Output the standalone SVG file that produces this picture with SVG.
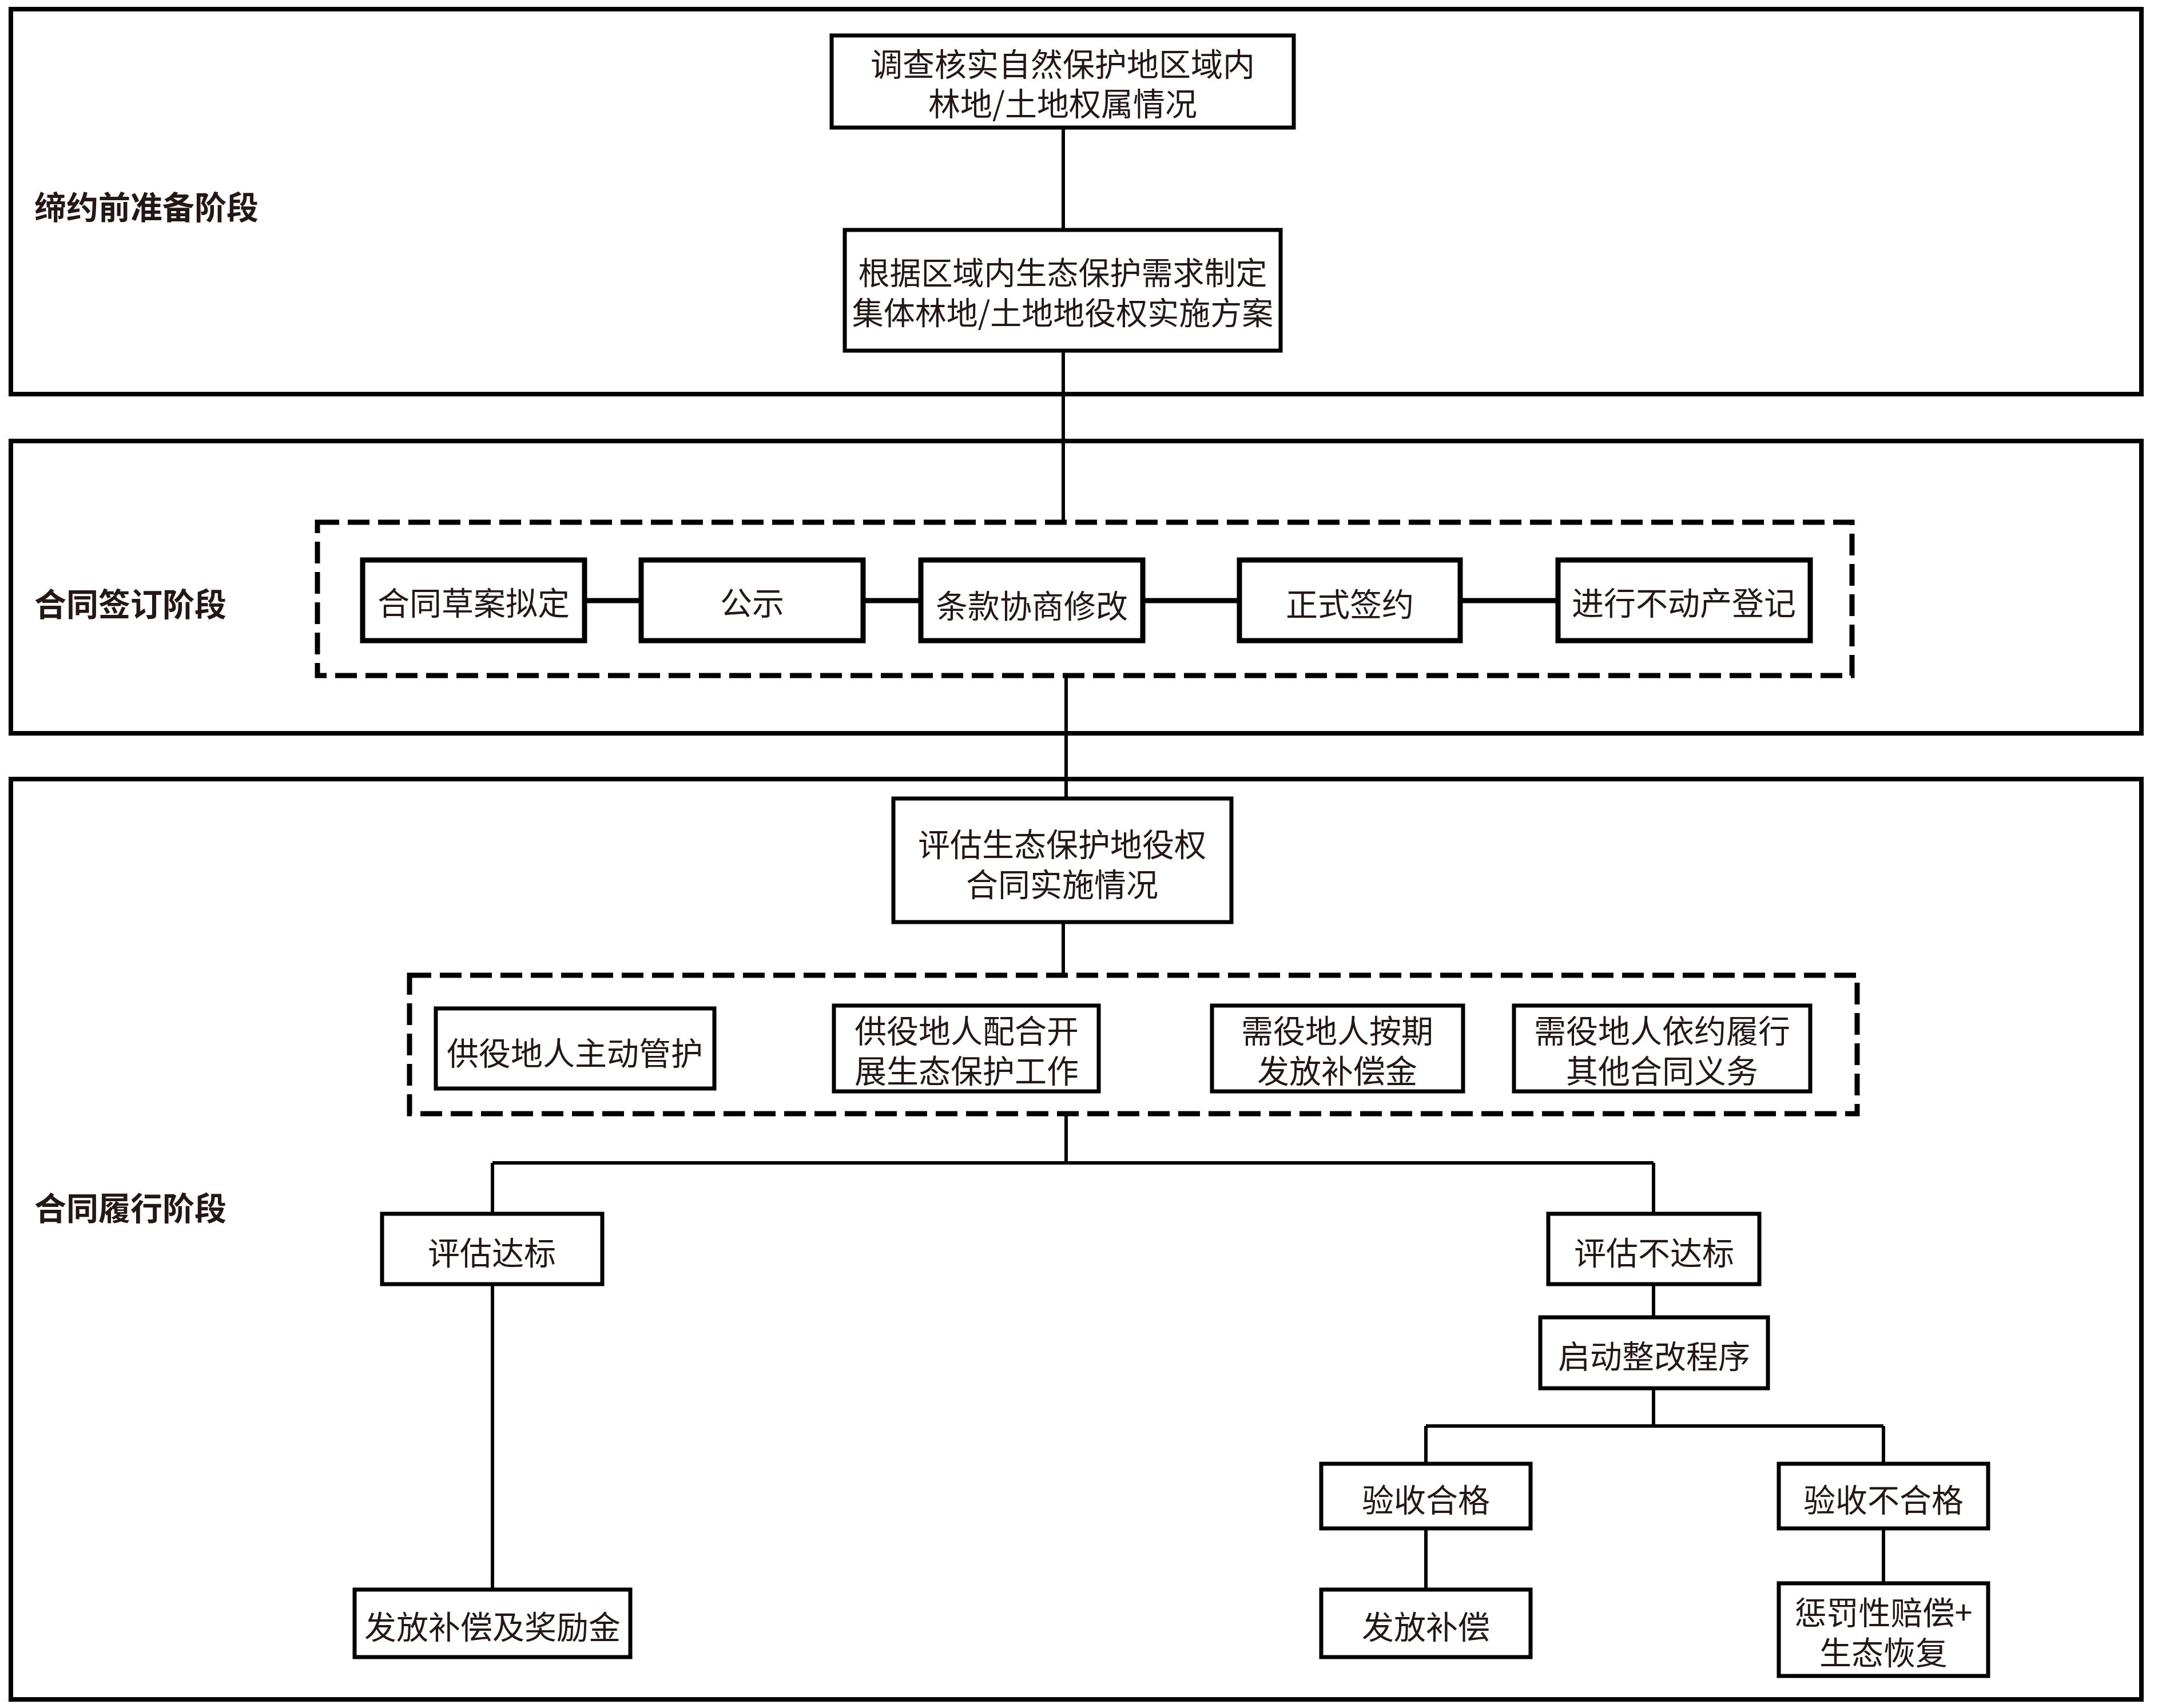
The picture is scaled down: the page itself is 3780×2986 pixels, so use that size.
<svg xmlns="http://www.w3.org/2000/svg" width="3780" height="2986" viewBox="0 0 3780 2986">
<style>
.panel{fill:none;stroke:#000;stroke-width:8}
.box{fill:#fff;stroke:#000;stroke-width:7}
.box2{fill:#fff;stroke:#000;stroke-width:9}
.dash{fill:none;stroke:#000;stroke-width:9;stroke-dasharray:38 15}
.t{font-family:"Noto Sans CJK SC","Noto Sans",sans-serif;font-size:56px;fill:#231815;text-anchor:middle;dominant-baseline:central}
.lbl{font-family:"Noto Sans CJK SC","Noto Sans",sans-serif;font-size:56px;font-weight:bold;fill:#231815;dominant-baseline:central}
.c{fill:none;stroke:#000;stroke-width:6}
.ch{fill:none;stroke:#000;stroke-width:9}
</style>
<rect x="0" y="0" width="3780" height="2986" fill="#fff"/>
<g id="panels">
<rect class="panel" x="19" y="16" width="3725" height="673"/>
<rect class="panel" x="19" y="771" width="3725" height="511"/>
<rect class="panel" x="19" y="1362" width="3725" height="1609"/>
<text class="lbl" x="60" y="358">缔约前准备阶段</text>
<text class="lbl" x="60" y="1052">合同签订阶段</text>
<text class="lbl" x="60" y="2108">合同履行阶段</text>
</g>
<g id="groups">
<rect class="dash" x="555" y="913" width="2683" height="268"/>
<rect class="dash" x="716" y="1705" width="2531" height="242"/>
</g>
<g id="connectors">
<path class="c" d="M1859 223V402M1859 613V913M1864 1181V1396M1859 1612V1705M1864 1947V2033"/>
<path class="ch" d="M1022 1050H1121M1509 1050H1610M1998 1050H2167M2553 1050H2724"/>
<path class="c" d="M861 2033H2891M861 2033V2122M2891 2033V2122M861 2245V2779M2891 2245V2303M2891 2427V2493M2493 2493H3293M2493 2493V2559M3293 2493V2559M2493 2672V2779M3293 2672V2768"/>
</g>
<g id="n1"><rect class="box" x="1454" y="62" width="808" height="161"/><text class="t"><tspan x="1858" y="108">调查核实自然保护地区域内</tspan><tspan x="1858" y="177">林地/土地权属情况</tspan></text></g>
<g id="n2"><rect class="box" x="1477" y="402" width="762" height="211"/><text class="t" style="font-size:55px"><tspan x="1858" y="473">根据区域内生态保护需求制定</tspan><tspan x="1858" y="543">集体林地/土地地役权实施方案</tspan></text></g>
<g id="n3"><rect class="box2" x="634" y="979" width="388" height="141"/><text class="t" x="828" y="1050">合同草案拟定</text></g>
<g id="n4"><rect class="box2" x="1121" y="979" width="388" height="141"/><text class="t" x="1315" y="1050">公示</text></g>
<g id="n5"><rect class="box2" x="1610" y="979" width="388" height="141"/><text class="t" x="1804" y="1055">条款协商修改</text></g>
<g id="n6"><rect class="box2" x="2167" y="979" width="386" height="141"/><text class="t" x="2360" y="1052">正式签约</text></g>
<g id="n7"><rect class="box2" x="2724" y="979" width="441" height="141"/><text class="t" x="2944" y="1050">进行不动产登记</text></g>
<g id="n8"><rect class="box" x="1562" y="1396" width="591" height="216"/><text class="t"><tspan x="1857" y="1472">评估生态保护地役权</tspan><tspan x="1857" y="1542">合同实施情况</tspan></text></g>
<g id="n9"><rect class="box" x="762" y="1763" width="487" height="140"/><text class="t" x="1005" y="1837">供役地人主动管护</text></g>
<g id="n10"><rect class="box" x="1458" y="1758" width="463" height="150"/><text class="t"><tspan x="1690" y="1798">供役地人配合开</tspan><tspan x="1690" y="1868">展生态保护工作</tspan></text></g>
<g id="n11"><rect class="box" x="2119" y="1758" width="439" height="150"/><text class="t"><tspan x="2338" y="1798">需役地人按期</tspan><tspan x="2338" y="1868">发放补偿金</tspan></text></g>
<g id="n12"><rect class="box" x="2647" y="1758" width="518" height="150"/><text class="t"><tspan x="2906" y="1798">需役地人依约履行</tspan><tspan x="2906" y="1868">其他合同义务</tspan></text></g>
<g id="n13"><rect class="box" x="668" y="2122" width="385" height="123"/><text class="t" x="860" y="2186">评估达标</text></g>
<g id="n14"><rect class="box" x="2707" y="2122" width="369" height="123"/><text class="t" x="2892" y="2186">评估不达标</text></g>
<g id="n15"><rect class="box" x="2693" y="2303" width="398" height="124"/><text class="t" x="2892" y="2367">启动整改程序</text></g>
<g id="n16"><rect class="box" x="2310" y="2559" width="366" height="113"/><text class="t" x="2493" y="2618">验收合格</text></g>
<g id="n17"><rect class="box" x="3110" y="2559" width="366" height="113"/><text class="t" x="3293" y="2618">验收不合格</text></g>
<g id="n18"><rect class="box" x="620" y="2779" width="482" height="118"/><text class="t" x="861" y="2840">发放补偿及奖励金</text></g>
<g id="n19"><rect class="box" x="2310" y="2779" width="366" height="118"/><text class="t" x="2493" y="2840">发放补偿</text></g>
<g id="n20"><rect class="box" x="3110" y="2768" width="366" height="162"/><text class="t"><tspan x="3293" y="2815">惩罚性赔偿+</tspan><tspan x="3293" y="2885">生态恢复</tspan></text></g>
</svg>
